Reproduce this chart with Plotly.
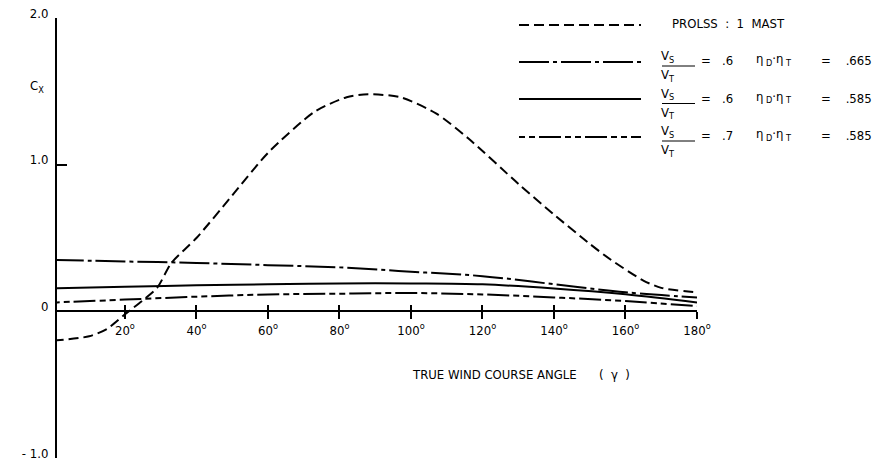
import plotly.graph_objects as go

W, H = 890, 461

# ---- data ----
prolss_angle = [0, 10, 15, 20, 25, 29, 33, 40, 50, 60, 73, 82, 88, 97, 107, 116, 130, 140, 150, 156, 165, 170, 180]
prolss_cx = [-0.20, -0.17, -0.12, -0.02, 0.075, 0.16, 0.33, 0.50, 0.79, 1.08, 1.36, 1.46, 1.48, 1.46, 1.35, 1.18, 0.87, 0.66, 0.46, 0.35, 0.21, 0.16, 0.13]

angle = [0, 20, 40, 60, 80, 100, 120, 140, 160, 180]
cx_06_665 = [0.35, 0.34, 0.33, 0.315, 0.30, 0.27, 0.24, 0.185, 0.13, 0.095]
cx_06_585 = [0.156, 0.167, 0.177, 0.184, 0.19, 0.19, 0.184, 0.156, 0.116, 0.06]
cx_07_585 = [0.06, 0.08, 0.10, 0.115, 0.12, 0.125, 0.115, 0.095, 0.07, 0.035]

x_ticks = [20, 40, 60, 80, 100, 120, 140, 160, 180]
x_ticktext = [f"{v}<sup>o</sup>" for v in x_ticks]
y_ticks = [-1, 0, 1, 2]
y_ticktext = ["- 1.0", "0", "1.0", "2.0"]

ratio_vals = [".6", ".6", ".7"]
eff_vals = [".665", ".585", ".585"]

FONT = "DejaVu Sans Condensed, DejaVu Sans, sans-serif"

DASH_PROLSS = "10px,5px"
DASH_665 = "30px,4px,4px,4px"
DASH_07 = "6px,4px,6px,4px,22px,4px"

def px(x):
    return x / W

def py(y):
    return 1 - y / H

fig = go.Figure()
fig.add_trace(go.Scatter(x=prolss_angle, y=prolss_cx, mode="lines", line=dict(color="black", width=2, dash=DASH_PROLSS, shape="spline", smoothing=0.7)))
fig.add_trace(go.Scatter(x=angle, y=cx_06_665, mode="lines", line=dict(color="black", width=2, dash=DASH_665, shape="spline")))
fig.add_trace(go.Scatter(x=angle, y=cx_06_585, mode="lines", line=dict(color="black", width=2, shape="spline")))
fig.add_trace(go.Scatter(x=angle, y=cx_07_585, mode="lines", line=dict(color="black", width=2, dash=DASH_07, shape="spline")))
# invisible helper trace so the overlaid tick axis (x2) gets drawn
fig.add_trace(go.Scatter(x=angle, y=cx_06_585, xaxis="x2", mode="lines", line=dict(width=0), opacity=0, hoverinfo="skip"))

# ---- text labels, placed in figure pixel space (x3/y3 cover the whole figure) ----
labels = []  # (x_px, y_px, text)
labels.append((30, 87, "C<sub>X</sub>"))
labels.append((413, 376, "TRUE WIND COURSE ANGLE&nbsp;&nbsp;&nbsp;&nbsp;&nbsp;&nbsp;(&nbsp;&nbsp;γ&nbsp;&nbsp;)"))
labels.append((672, 25, "PROLSS&nbsp;&nbsp;:&nbsp;&nbsp;1&nbsp;&nbsp;MAST"))
row_base = [62, 99.5, 137]
for base, rv, ev in zip(row_base, ratio_vals, eff_vals):
    labels.append((661, base - 5, "V<sub>S</sub>"))
    labels.append((661, base + 14, "V<sub>T</sub>"))
    labels.append((701, base, "=&nbsp;&nbsp;&nbsp;" + rv))
    labels.append((756, base - 2, "η<sub>&nbsp;D</sub>·η<sub>&nbsp;T</sub>"))
    labels.append((821, base, "=&nbsp;&nbsp;&nbsp;&nbsp;" + ev))

fig.add_trace(go.Scatter(
    x=[l[0] for l in labels], y=[l[1] for l in labels], text=[l[2] for l in labels],
    mode="text", textposition="middle right", xaxis="x3", yaxis="y3",
    textfont=dict(family=FONT, size=13, color="black"), hoverinfo="skip", cliponaxis=False))

x0_px, x1_px = 57, 697
top_px, bot_px = 18, 458
xdom = [px(x0_px), px(x1_px)]
ydom = [py(bot_px), py(top_px)]
zero_pos = ydom[0] + (ydom[1] - ydom[0]) / 3

xrange_ = [1.0, 180]
common_x = dict(range=xrange_, domain=xdom, anchor="free", position=zero_pos, automargin=False,
                showgrid=False, zeroline=False, showline=True, linecolor="black", linewidth=2,
                tickvals=x_ticks, tickcolor="black", tickwidth=2)

fig.update_layout(
    width=W, height=H,
    margin=dict(l=0, r=0, t=0, b=0, pad=0),
    paper_bgcolor="white", plot_bgcolor="rgba(0,0,0,0)",
    showlegend=False,
    font=dict(family=FONT, size=13, color="black"),
    xaxis=dict(**common_x, ticktext=x_ticktext, ticks="outside", ticklen=7,
               tickfont=dict(family=FONT, size=13, color="black")),
    xaxis2=dict(**common_x, overlaying="x", ticks="inside", ticklen=5, showticklabels=False),
    yaxis=dict(range=[-1, 2], domain=ydom, anchor="x", automargin=False, showgrid=False, zeroline=False,
               showline=True, linecolor="black", linewidth=2,
               tickvals=y_ticks, ticktext=y_ticktext, ticks="inside", ticklen=10,
               tickcolor="black", tickwidth=2, ticklabelshift=-5, ticklabelstandoff=4,
               ticklabeloverflow="allow",
               tickfont=dict(family=FONT, size=13, color="black")),
    xaxis3=dict(domain=[0, 1], range=[0, W], anchor="y3", visible=False, fixedrange=True, automargin=False),
    yaxis3=dict(domain=[0, 1], range=[H, 0], anchor="x3", visible=False, fixedrange=True, automargin=False),
)

# legend sample lines and fraction bars
legend_rows = [
    (25, DASH_PROLSS),
    (62, DASH_665),
    (99, "solid"),
    (137, DASH_07),
]
shapes = []
for yy, d in legend_rows:
    shapes.append(dict(type="line", xref="paper", yref="paper", x0=px(519), x1=px(641), y0=py(yy), y1=py(yy),
                       line=dict(color="black", width=2, dash=d)))
for base in row_base:
    shapes.append(dict(type="line", xref="paper", yref="paper", x0=px(662), x1=px(695), y0=py(base + 4), y1=py(base + 4),
                       line=dict(color="black", width=1)))

fig.update_layout(shapes=shapes)

fig.write_html("out.html")
